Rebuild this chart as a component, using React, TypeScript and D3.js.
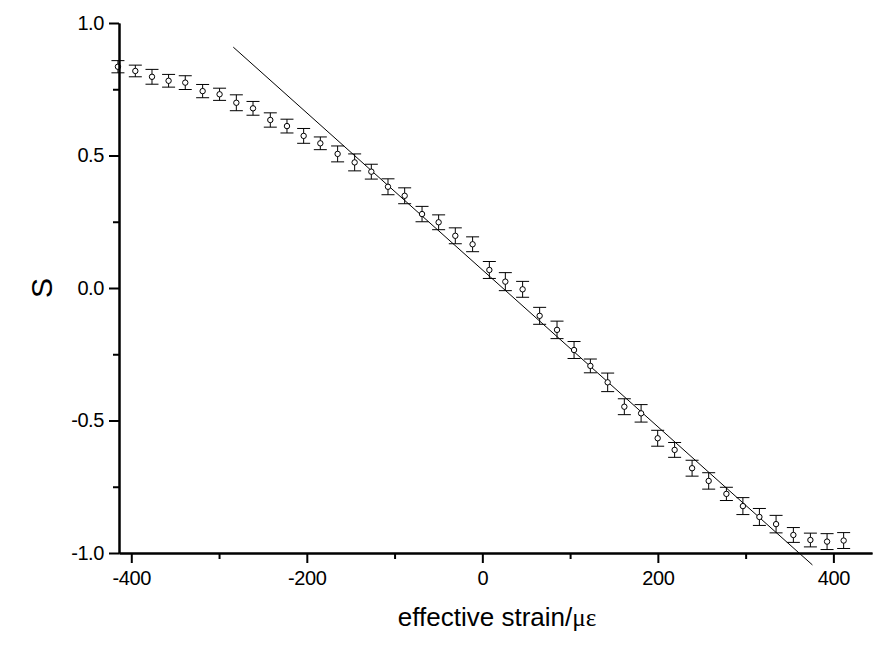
import { useEffect, useRef } from 'react';
import * as d3 from 'd3';

// effective strain (με) of each measured point
const strain = [
	-415.2, -395.4, -376.4, -357.5, -338.5, -318.7, -299.4, -280.3, -261.3, -241.6,
	-222.6, -203.6, -184.6, -164.9, -145.5, -126.5, -107.5, -88.5, -68.7, -49.8,
	-30.8, -11.1, 8.0, 26.2, 45.9, 65.3, 85.1, 104.5, 123.1, 142.8,
	161.8, 180.9, 199.8, 219.1, 239.0, 257.9, 278.1, 296.9, 315.7, 334.7,
	354.4, 373.8, 392.8, 411.7,
];

// S value
const sValue = [
	0.835, 0.819, 0.797, 0.782, 0.775, 0.743, 0.731, 0.699, 0.678, 0.634,
	0.611, 0.574, 0.546, 0.506, 0.474, 0.439, 0.382, 0.348, 0.279, 0.248,
	0.197, 0.165, 0.068, 0.024, -0.005, -0.105, -0.158, -0.234, -0.294, -0.356,
	-0.448, -0.473, -0.567, -0.611, -0.68, -0.728, -0.777, -0.823, -0.864, -0.891,
	-0.932, -0.951, -0.957, -0.953,
];

// half height of each error bar
const sError = [
	0.023, 0.022, 0.028, 0.024, 0.026, 0.025, 0.023, 0.03, 0.026, 0.027,
	0.026, 0.028, 0.024, 0.03, 0.032, 0.028, 0.03, 0.03, 0.029, 0.028,
	0.03, 0.028, 0.032, 0.034, 0.03, 0.032, 0.033, 0.032, 0.026, 0.035,
	0.03, 0.033, 0.03, 0.028, 0.03, 0.031, 0.025, 0.032, 0.032, 0.033,
	0.028, 0.026, 0.03, 0.03,
];

// linear fit S = intercept + slope * strain, drawn over this range
const fitSlope = -0.002961;
const fitIntercept = 0.0686;
const fitRange = [-283.8, 376.1];

const xTicks = [-400, -200, 0, 200, 400];
const xMinorTicks = [-300, -100, 100, 300];
const yTicks = [-1.0, -0.5, 0.0, 0.5, 1.0];
const yMinorTicks = [-0.75, -0.25, 0.25, 0.75];

const width = 874;
const height = 646;

const App = () => {
	const svgRef = useRef<SVGSVGElement>(null);

	useEffect(() => {
		if (!svgRef.current) return;
		const svg = d3.select(svgRef.current);
		svg.selectAll('*').remove();

		const x = d3.scaleLinear().domain([-414, 444]).range([119, 872]);
		const y = d3.scaleLinear().domain([-1, 1]).range([553, 23]);
		const font = 'Arial, "Liberation Sans", sans-serif';

		const data = strain.map((s, i) => ({ x: s, y: sValue[i], e: sError[i] }));

		// fit line
		const line = d3
			.line<number>()
			.x((d) => x(d))
			.y((d) => y(fitIntercept + fitSlope * d));
		svg.append('path')
			.datum(fitRange)
			.attr('d', line)
			.attr('fill', 'none')
			.attr('stroke', '#000')
			.attr('stroke-width', 1);

		// error bars
		const bars = svg.append('g').attr('stroke', '#000').attr('stroke-width', 1);
		const capHalf = 6.5;
		data.forEach((d) => {
			const cx = x(d.x);
			bars.append('line')
				.attr('x1', cx).attr('x2', cx)
				.attr('y1', y(d.y + d.e)).attr('y2', y(d.y - d.e));
			bars.append('line')
				.attr('x1', cx - capHalf).attr('x2', cx + capHalf)
				.attr('y1', y(d.y + d.e)).attr('y2', y(d.y + d.e));
			bars.append('line')
				.attr('x1', cx - capHalf).attr('x2', cx + capHalf)
				.attr('y1', y(d.y - d.e)).attr('y2', y(d.y - d.e));
		});

		// points
		svg.append('g')
			.selectAll('circle')
			.data(data)
			.join('circle')
			.attr('cx', (d) => x(d.x))
			.attr('cy', (d) => y(d.y))
			.attr('r', 2.7)
			.attr('fill', '#fff')
			.attr('stroke', '#000')
			.attr('stroke-width', 1);

		// x axis
		const xAxis = svg.append('g').attr('transform', `translate(0,${y(-1)})`);
		xAxis.call(
			d3.axisBottom(x).tickValues(xTicks).tickSize(10).tickSizeOuter(0).tickPadding(8)
				.tickFormat((d) => String(d))
		);
		xAxis.append('g').call(
			d3.axisBottom(x).tickValues(xMinorTicks).tickSize(6).tickSizeOuter(0).tickFormat(() => '')
		);
		xAxis.selectAll('path.domain').attr('stroke-width', 2);
		xAxis.selectAll('.tick line').attr('stroke-width', 2);
		xAxis.selectAll('text')
			.attr('font-family', font)
			.attr('font-size', 20)
			.attr('letter-spacing', -0.4)
			.attr('fill', '#000');

		// y axis
		const yAxis = svg.append('g').attr('transform', `translate(${x.range()[0]},0)`);
		yAxis.call(
			d3.axisLeft(y).tickValues(yTicks).tickSize(10).tickSizeOuter(0).tickPadding(5)
				.tickFormat((d) => (+d).toFixed(1))
		);
		yAxis.append('g').call(
			d3.axisLeft(y).tickValues(yMinorTicks).tickSize(6).tickSizeOuter(0).tickFormat(() => '')
		);
		yAxis.selectAll('path.domain').attr('stroke-width', 2);
		yAxis.selectAll('.tick line').attr('stroke-width', 2);
		yAxis.selectAll('text')
			.attr('font-family', font)
			.attr('font-size', 20)
			.attr('letter-spacing', -0.4)
			.attr('fill', '#000');

		// axis titles
		const xTitle = svg.append('text')
			.attr('x', 497)
			.attr('y', 626)
			.attr('text-anchor', 'middle')
			.attr('font-family', font)
			.attr('font-size', 26)
			.attr('fill', '#000');
		xTitle.append('tspan').text('effective strain/');
		xTitle.append('tspan')
			.attr('font-family', '"Liberation Serif", serif')
			.attr('font-size', 25)
			.text('με');

		svg.append('text')
			.attr('transform', `translate(52,${y(0)}) rotate(-90)`)
			.attr('text-anchor', 'middle')
			.attr('font-family', font)
			.attr('font-size', 30)
			.attr('fill', '#000')
			.text('S');
	}, []);

	return (
		<svg
			ref={svgRef}
			width={width}
			height={height}
			style={{ position: 'absolute', left: 0, top: 0, background: '#fff' }}
		></svg>
	);
};

export default App;
